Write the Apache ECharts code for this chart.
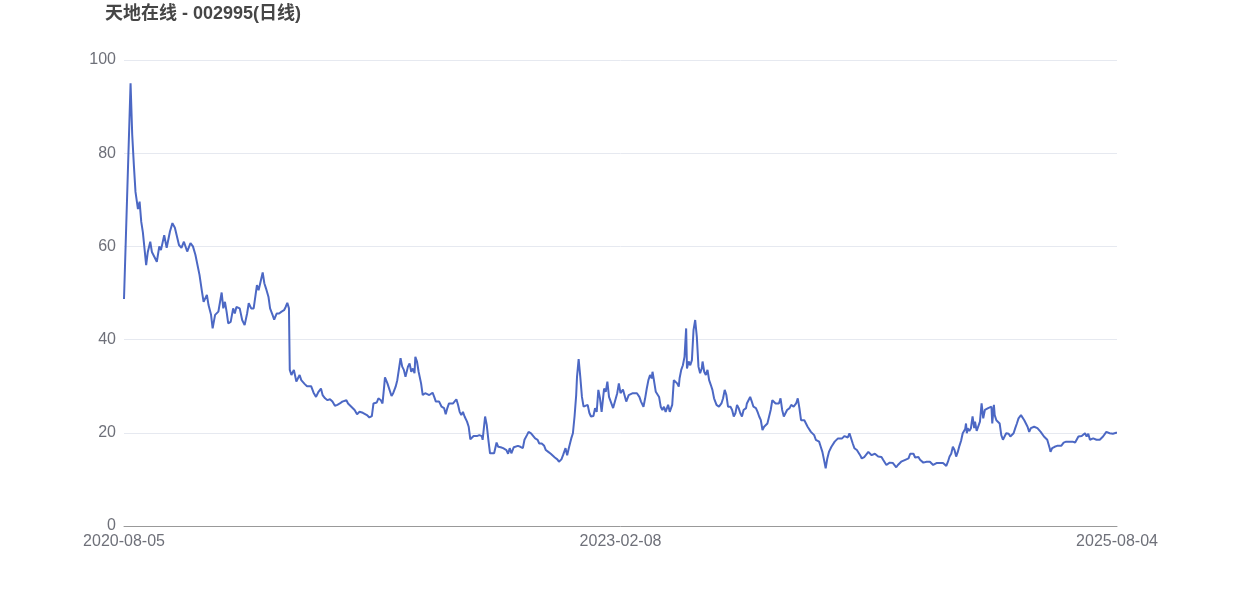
<!DOCTYPE html>
<html>
<head>
<meta charset="utf-8">
<title>天地在线 - 002995(日线)</title>
<script src="https://cdn.jsdelivr.net/npm/echarts@6/dist/echarts.min.js"></script>
<style>
  html, body { margin: 0; padding: 0; background: #fff; }
  #chart { width: 1242px; height: 596px; }
</style>
</head>
<body>
<div id="chart"></div>
<script>
// x = trading-day index since listing, y = close price
const xTickLabels = ['2020-08-05', '2023-02-08', '2025-08-04']
const lastDay = 1210

const part2020 = [[0,48.7],[1,48.7],[8,95],[10,84],[12,77.5],[14,71.7],[17,68],[19,69.6],[21,65.3],[23,63],[27,56],[29,58.8],[32,61],[34,58.8],[40,56.7],[43,60],[45,59.2],[49,62.4],[52,59.7],[56,63.2],[59,65],[62,64],[63,64.2],[67,60.3],[70,59.7],[73,61],[77,58.9],[81,60.7],[84,60],[87,58.2],[89,57.8],[92,53.9],[95,50.3],[97,48.1],[99,47.9],[101,49.6],[103,47.4],[106,45.4],[108,42.4],[111,45.3],[115,46],[117,45.6],[119,50.1],[121,46.7],[123,48.1],[125,46],[127,43.5],[130,43.8],[133,46.7],[135,45.6],[137,47],[141,46.7],[144,44.2]]

const part2021 = [[147,43.1],[150,45.6],[152,47.8],[155,46.7],[158,46.7],[160,46.3],[162,51.7],[164,50.6],[166,52.1],[169,54.4],[171,52.1],[173,51],[176,49.2],[178,46.7],[181,45.3],[183,44.3],[186,45.6],[189,45.6],[192,46],[195,46.3],[197,47],[199,47.9],[201,46.7],[202,33.5],[204,32.4],[207,33.5],[210,31],[214,32.4],[216,31.3],[220,30.5],[223,30],[225,29.9],[228,30],[231,28.6],[234,27.7],[237,28.8],[240,29.5],[242,28.1],[245,27.4],[248,27],[251,27.2],[254,26.7],[257,25.8],[260,26],[263,26.3],[266,26.7],[271,27],[273,26.3],[277,25.6],[281,24.9],[284,24],[287,24.5],[291,24.3],[296,23.8],[299,23.3],[302,23.6],[304,26.3],[306,26.7],[308,26.5],[310,27.4],[313,27],[315,26.3],[317,29.9],[318,31.9],[321,30.6],[323,30.6],[326,27.9],[328,28.5],[331,29.9],[333,31.3],[335,31],[337,36],[339,34.2],[341,33.5],[343,32],[346,34.2],[348,34.9],[350,33.1],[352,33.8],[354,32.8],[355,36.3],[357,35.3],[359,33.1],[362,30.6],[364,28.1],[367,28.5],[369,28.8],[372,28.1],[374,28.5],[376,28.6],[378,27.7],[380,26.7],[382,26.3],[384,26.7],[387,25.6],[390,25.3],[392,24],[394,25.3],[396,26.3],[398,26],[401,26.3],[402,26.7],[405,27.2],[407,26],[409,24.5],[411,23.8],[413,24.5],[415,23.5],[418,22.4],[420,21.3],[422,18.6],[424,18.7],[426,19.3],[430,19.3],[433,19.5],[436,19.3],[437,18.5]]

const part2022 = [[440,23.5],[442,21.7],[444,18.5],[446,15.6],[448,15.2],[451,15.6],[454,17.9],[456,17],[459,16.9],[462,16.7],[466,16.3],[468,15.5],[470,16.7],[472,15.6],[475,16.9],[477,17.2],[480,17.2],[483,17],[486,16.7],[488,18.5],[491,19.5],[493,20.2],[496,19.9],[498,19.5],[501,18.8],[504,18.5],[506,17.7],[509,17.7],[512,17.2],[514,16.3],[517,15.9],[520,15.5],[522,15.2],[525,14.7],[528,14.3],[530,13.8],[533,14.3],[535,15.2],[538,16.7],[540,15.2],[542,16.7],[545,18.8],[547,19.9],[549,23.5],[551,28.1],[552,32],[554,35.8],[556,32],[558,27.7],[560,25.6],[562,26],[565,26],[567,24.3],[569,23.5],[572,23.6],[574,25.3],[576,24.5],[578,29.2],[580,27.4],[582,24.5]]

const part2023 = [[585,29.5],[587,28.8],[589,31],[591,27.7],[593,28.1],[596,25.3],[598,25.3],[601,28.5],[603,30.6],[605,28.5],[608,29.3],[610,29.3],[612,26.7],[615,28.1],[617,28.1],[620,28.5],[622,28.8],[625,28.5],[628,27.7],[630,26.7],[633,25.6],[635,27.4],[637,29.5],[639,31.3],[641,32.4],[643,31.7],[644,33.1],[646,31],[648,28.8],[650,29],[652,27.7],[654,25.6],[656,24.9],[658,25.6],[660,24.5],[663,26],[665,24.5],[668,26],[670,31.3],[672,31.7],[674,30.6],[676,29.9],[677,31.7],[679,33.5],[681,34.5],[683,36.3],[685,42.4],[686,33.8],[688,35.3],[690,34.5],[692,35.6],[694,42.1],[696,44.2],[698,40.6],[700,34.2],[702,32.8],[704,33.8],[705,35.3],[707,33.1],[709,32.4],[711,33.5],[713,31.3],[715,30.3],[717,29.2],[719,27.4],[722,26],[725,25.6],[728,26.3],[730,27.4],[732,29.2],[734,28.1],[736,25.6],[739,25.6],[741,24.9],[743,23.5],[745,24.2],[747,26],[749,25.3],[751,24.2],[753,23.5],[755,24.9],[758,25.3],[759,26.3],[761,27],[763,27.7],[765,26.7],[767,25.6],[770,25.3],[772,24.5],[774,23.5],[776,22.7],[778,20.6],[780,21.3],[782,21.3],[784,22],[786,22],[788,24.9],[790,27],[792,27.4],[794,26.3],[796,26.2],[798,26.3],[800,27.4],[802,24.9],[804,23.5],[806,23.8],[808,24.9],[811,25.3],[813,26],[815,26],[816,25.6],[819,26.3],[821,27.4],[823,25.3],[825,22.7],[827,22.4],[829,22.7],[831,22],[833,21.3],[835,21],[837,20.2],[839,19.9],[841,19.5],[843,18.5],[845,18.8],[847,18.1],[849,17],[851,15.9],[853,14.2],[855,12.4],[857,14.5],[859,15.9],[862,17],[864,16.7],[866,18.1],[868,18.5],[870,18.8],[872,18.5],[875,18.8],[878,19.3]]

const part2024 = [[879,19.5],[882,19],[884,19.9],[886,19.5],[888,17.7],[890,16.7],[893,16.3],[895,16.7],[897,15.2],[899,14.5],[902,14.8],[904,15.2],[907,15.9],[909,15.7],[911,15.2],[913,15.2],[915,15.5],[917,15.5],[919,14.9],[921,14.5],[923,14.8],[925,14.2],[927,13.8],[929,13.1],[931,12.7],[933,13.6],[935,13.8],[937,13.5],[939,13.1],[941,12.6],[943,13.1],[945,13.5],[947,13.8],[949,13.5],[952,14.2],[954,13.8],[956,14.5],[958,15.5],[960,15.5],[962,15.5],[964,14.7],[966,14.5],[968,14.8],[970,14.2],[972,13.8],[974,13.6],[976,13.5],[978,13.8],[980,14.2],[982,13.8],[984,13.5],[986,13.1],[988,13.5],[990,13.5],[992,13.4],[994,13.5],[996,13.4],[998,13.5],[1000,13.1],[1002,12.9],[1004,13.8],[1006,14.9],[1008,15.5],[1010,17],[1012,16.3],[1014,14.9],[1016,15.9],[1018,17.2],[1020,18.3],[1022,19.9],[1025,20.8],[1026,22],[1027,19.9],[1028,21],[1030,20.4],[1032,21],[1034,23.5],[1036,21],[1037,22.4],[1039,20.4],[1041,20.4],[1043,22.4],[1045,26.3],[1047,23.1],[1049,24.9],[1051,24.5],[1053,25.3],[1055,24.9],[1057,25.6],[1058,22],[1060,26],[1061,23.8],[1063,22.7],[1065,22.4],[1067,22],[1069,19.5],[1071,18.5],[1073,18.8],[1075,19.9],[1078,19.8],[1080,19.2],[1082,19.2],[1084,19.9],[1086,21],[1088,22],[1090,23.1],[1093,23.8],[1095,23.5],[1097,22.7],[1099,22.4],[1101,21.3],[1103,20.2],[1105,21],[1107,21.3],[1109,21.3],[1111,21],[1113,21],[1115,20.6]]

const part2025 = [[1117,20.2],[1119,19.9],[1121,19.2],[1123,18.8],[1125,18.5],[1126,18.1],[1128,16.7],[1129,15.9],[1131,16.7],[1134,17],[1137,17.2],[1139,17],[1142,17.2],[1145,17.9],[1148,18.1],[1150,18.1],[1153,18.1],[1156,18.1],[1159,17.9],[1161,17.7],[1163,19.2],[1165,19.2],[1167,19.3],[1169,19.5],[1171,19.9],[1173,19.2],[1175,19.8],[1177,18.5],[1179,18.1],[1181,18.8],[1183,18.6],[1185,18.5],[1187,18.1],[1189,18.5],[1191,18.8],[1193,19.2],[1195,18.8],[1197,20.2],[1199,20],[1201,19.9],[1203,19.9],[1205,19.8],[1207,20],[1209,20],[1210,20]]

const dailyClose = [].concat(part2020, part2021, part2022, part2023, part2024, part2025)

const chart = echarts.init(document.getElementById('chart'))
chart.setOption({
  animation: false,
  textStyle: { fontFamily: '"Liberation Sans", "Noto Sans CJK SC", sans-serif' },
  title: {
    text: '天地在线 - 002995(日线)',
    left: 100,
    top: 0,
    textStyle: { fontSize: 18, fontWeight: 'bold', color: '#464646' }
  },
  grid: { left: 124, right: 125, top: 60, bottom: 70 },
  xAxis: {
    type: 'value',
    min: 0,
    max: lastDay,
    interval: lastDay / 2,
    axisLine: { lineStyle: { color: '#999' } },
    axisTick: { show: false },
    splitLine: { show: false },
    axisLabel: {
      fontSize: 16,
      color: '#6e7079',
      formatter: v => xTickLabels[Math.round(v / (lastDay / 2))]
    }
  },
  yAxis: {
    type: 'value',
    min: 0,
    max: 100,
    interval: 20,
    axisLine: { show: false },
    axisTick: { show: false },
    splitLine: { lineStyle: { color: '#e6e9f0' } },
    axisLabel: { fontSize: 16, color: '#6e7079' }
  },
  series: [{
    type: 'line',
    data: dailyClose,
    showSymbol: false,
    lineStyle: { width: 2, color: '#4c68c4' }
  }]
})
</script>
</body>
</html>
